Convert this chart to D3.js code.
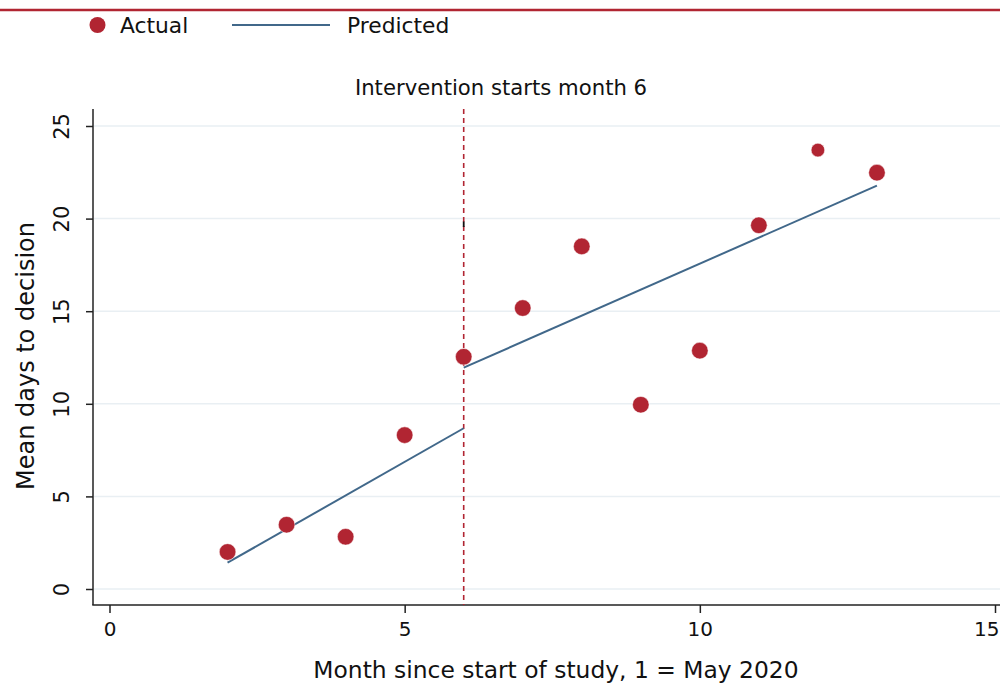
<!DOCTYPE html>
<html>
<head>
<meta charset="utf-8">
<script src="https://cdn.jsdelivr.net/npm/d3@7/dist/d3.min.js"></script>
<style>
  html, body { margin: 0; padding: 0; background: #fff; }
  svg { display: block; }
  text { font-family: "DejaVu Sans", "Open Sans", sans-serif; fill: #111; }
</style>
</head>
<body>
<svg id="chart" width="1000" height="684"></svg>
<script>
// Monthly mean days to decision, with interrupted time-series fit
const months = [2, 3, 4, 5, 6, 7, 8, 9, 10, 11, 12, 13];
const actual = [2.0, 3.47, 2.82, 8.31, 12.54, 15.17, 18.5, 9.95, 12.87, 19.64, 23.7, 22.48];

// Fitted segments before and after the intervention
const preMonths = [2, 6];
const preFit = [1.42, 8.68];
const postMonths = [6, 13];
const postFit = [11.95, 21.78];

const interventionMonth = 6;
const xTicks = [0, 5, 10, 15];
const yTicks = [0, 5, 10, 15, 20, 25];

const RED = "#b12532";
const BLUE = "#41688a";

const svg = d3.select("#chart");

const x = d3.scaleLinear().domain([0, 15]).range([109.5, 995]);
const y = d3.scaleLinear().domain([0, 25]).range([589, 126]);

const plotTop = 109, plotBottom = 605, plotLeft = 93, plotRight = 1000;

// Header rule
svg.append("line")
  .attr("x1", 0).attr("x2", 1000).attr("y1", 10).attr("y2", 10)
  .attr("stroke", RED).attr("stroke-width", 2.5);

// Legend
const legend = svg.append("g");
legend.append("circle").attr("cx", 97.5).attr("cy", 25).attr("r", 8).attr("fill", RED);
legend.append("text").attr("x", 120).attr("y", 33).attr("font-size", 21.8).text("Actual");
legend.append("line").attr("x1", 232).attr("x2", 330).attr("y1", 25).attr("y2", 25)
  .attr("stroke", BLUE).attr("stroke-width", 2);
legend.append("text").attr("x", 347).attr("y", 33).attr("font-size", 21.8).text("Predicted");

// Title
svg.append("text")
  .attr("x", 501).attr("y", 95).attr("text-anchor", "middle").attr("font-size", 21.2)
  .text("Intervention starts month " + interventionMonth);

// Gridlines
svg.append("g").selectAll("line").data(yTicks).join("line")
  .attr("x1", plotLeft + 1).attr("x2", plotRight)
  .attr("y1", d => y(d)).attr("y2", d => y(d))
  .attr("stroke", "#e9eff3").attr("stroke-width", 1.5);

// Y axis
const yAxis = svg.append("g").attr("transform", `translate(${plotLeft},0)`)
  .call(d3.axisLeft(y).tickValues(yTicks).tickSize(7).tickPadding(0).tickFormat(d3.format("d")));
yAxis.select(".domain").remove();
yAxis.append("line").attr("x1", 0).attr("x2", 0).attr("y1", plotTop).attr("y2", plotBottom)
  .attr("stroke", "#222").attr("stroke-width", 1.5);
yAxis.selectAll(".tick line").attr("stroke", "#222").attr("stroke-width", 1.5);
yAxis.selectAll(".tick text")
  .attr("font-size", 21).attr("fill", "#111")
  .attr("text-anchor", "middle")
  .attr("x", 0).attr("dy", 0)
  .attr("transform", "translate(-31,0) rotate(-90)")
  .attr("y", 7);

// X axis
const xAxis = svg.append("g").attr("transform", `translate(0,${plotBottom})`)
  .call(d3.axisBottom(x).tickValues(xTicks).tickSize(8).tickPadding(9).tickFormat(d3.format("d")));
xAxis.select(".domain").remove();
xAxis.append("line").attr("x1", plotLeft - 0.75).attr("x2", plotRight).attr("y1", 0).attr("y2", 0)
  .attr("stroke", "#222").attr("stroke-width", 1.5);
xAxis.selectAll(".tick line").attr("stroke", "#222").attr("stroke-width", 1.5);
xAxis.selectAll(".tick text").attr("font-size", 20).attr("fill", "#111");
// keep the last label inside the canvas
xAxis.selectAll(".tick text").filter(d => d === 15)
  .attr("text-anchor", "end").attr("x", 4);

// Axis titles
svg.append("text")
  .attr("x", 556).attr("y", 678).attr("text-anchor", "middle").attr("font-size", 23.4)
  .text("Month since start of study, 1 = May 2020");
svg.append("text")
  .attr("transform", "translate(34,356) rotate(-90)")
  .attr("text-anchor", "middle").attr("font-size", 24)
  .text("Mean days to decision");

// Intervention marker
svg.append("line")
  .attr("x1", x(interventionMonth)).attr("x2", x(interventionMonth))
  .attr("y1", plotTop).attr("y2", plotBottom)
  .attr("stroke", RED).attr("stroke-width", 1.6).attr("stroke-dasharray", "5,4");
svg.append("line")
  .attr("x1", x(interventionMonth)).attr("x2", x(interventionMonth))
  .attr("y1", 221.5).attr("y2", 227)
  .attr("stroke", "#111").attr("stroke-width", 1.8);

// Fitted lines
const line = d3.line().x(d => x(d[0])).y(d => y(d[1]));
[[preMonths, preFit], [postMonths, postFit]].forEach(([ms, vs]) => {
  svg.append("path")
    .datum(d3.zip(ms, vs))
    .attr("d", line)
    .attr("fill", "none").attr("stroke", BLUE).attr("stroke-width", 2);
});

// Observed points
const smallMarkers = new Set([12]);
svg.append("g").selectAll("circle").data(d3.zip(months, actual)).join("circle")
  .attr("cx", d => x(d[0])).attr("cy", d => y(d[1]))
  .attr("r", d => smallMarkers.has(d[0]) ? 6.8 : 8.3)
  .attr("fill", RED).attr("stroke", "#fff").attr("stroke-width", 0.5);
</script>
</body>
</html>
